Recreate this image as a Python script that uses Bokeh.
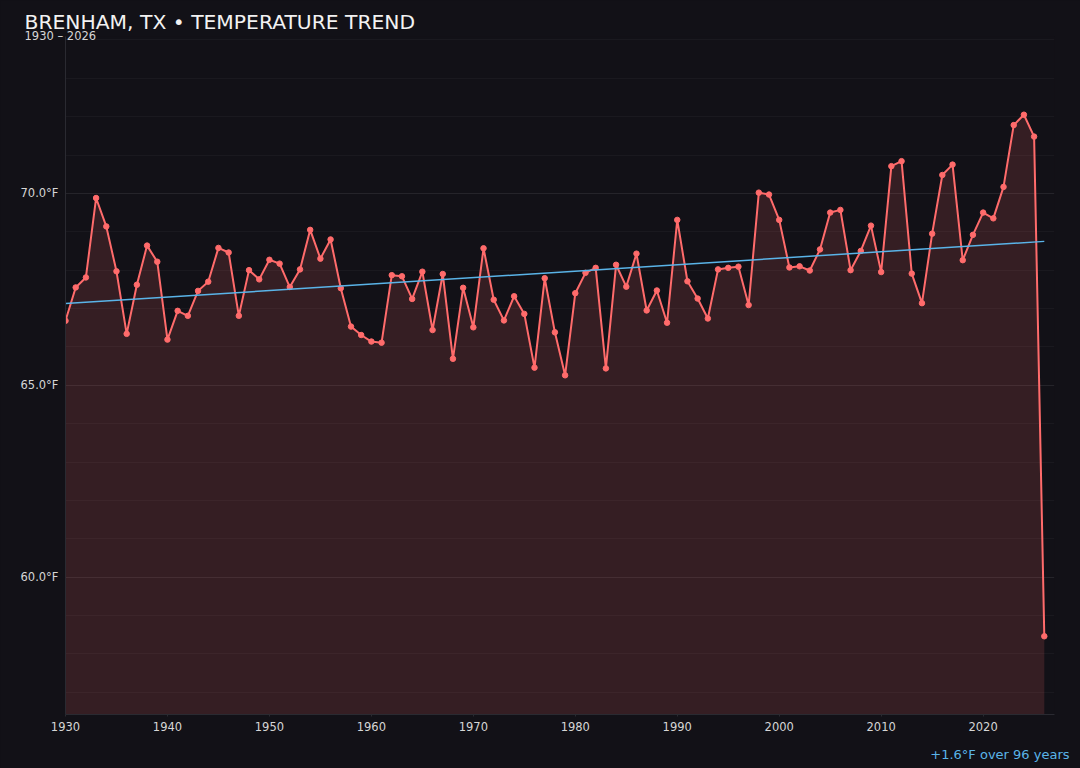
from bokeh.plotting import figure
from bokeh.embed import file_html
from bokeh.resources import INLINE
from bokeh.models import (Range1d, SingleIntervalTicker, PrintfTickFormatter,
                          Title, GlobalInlineStyleSheet)

years = list(range(1930, 2027))
temps = [
    66.68, 67.55, 67.81, 69.88, 69.14, 67.97, 66.34, 67.62, 68.64, 68.22,
    66.19, 66.94, 66.81, 67.46, 67.70, 68.58, 68.46, 66.81, 68.00, 67.76,
    68.27, 68.17, 67.56, 68.02, 69.05, 68.30, 68.80, 67.53, 66.53, 66.31,
    66.14, 66.11, 67.87, 67.84, 67.25, 67.96, 66.44, 67.90, 65.69, 67.54,
    66.51, 68.57, 67.23, 66.69, 67.32, 66.86, 65.46, 67.79, 66.38, 65.26,
    67.40, 67.93, 68.06, 65.44, 68.14, 67.57, 68.43, 66.95, 67.47, 66.63,
    69.31, 67.71, 67.26, 66.74, 68.02, 68.06, 68.09, 67.09, 70.02, 69.97,
    69.31, 68.07, 68.10, 67.99, 68.54, 69.50, 69.57, 68.00, 68.50, 69.16,
    67.95, 70.71, 70.84, 67.91, 67.14, 68.95, 70.48, 70.75, 68.26, 68.92,
    69.50, 69.35, 70.17, 71.78, 72.05, 71.48, 58.46,
]
trend_years = [1930, 2026]
trend_temps = [67.13, 68.75]

title_text = "BRENHAM, TX \u2022 TEMPERATURE TREND"
subtitle_text = "1930 \u2013 2026"
note_text = "+1.6\u00b0F over 96 years"

BG = "#121117"
RED = "#ff6b6b"
BLUE = "#5ab4e8"
W, H = 1080, 768
LEFT, RIGHT, TOP, BOTTOM = 65, 26, 36, 54

span = max(temps) - min(temps)
y_lo = min(temps) - 0.15 * span
y_hi = max(temps) + 0.15 * span

p = figure(width=W, height=H, output_backend="svg", toolbar_location=None, tools="",
           x_range=Range1d(1930, 2027), y_range=Range1d(y_lo, y_hi),
           min_border_left=LEFT, min_border_right=RIGHT,
           min_border_top=TOP, min_border_bottom=BOTTOM)
p.stylesheets = [GlobalInlineStyleSheet(
    css=f"html, body {{ margin: 0; padding: 0; background: {BG}; overflow: hidden; }}")]
p.background_fill_color = BG
p.border_fill_color = BG
p.outline_line_color = None

p.varea(x=years, y1=[y_lo] * len(years), y2=temps, fill_color=RED, fill_alpha=0.15)
p.line(years, temps, line_color=RED, line_width=2)
p.scatter(years, temps, size=5.5, fill_color=RED, line_color=RED)
p.line(trend_years, trend_temps, line_color=BLUE, line_width=1.5)

p.xaxis.ticker = SingleIntervalTicker(interval=10, num_minor_ticks=0)
p.yaxis.ticker = SingleIntervalTicker(interval=5, num_minor_ticks=5)
p.yaxis.formatter = PrintfTickFormatter(format="%.1f\u00b0F")
for ax in (p.xaxis, p.yaxis):
    ax.axis_line_color = "#2a2a31"
    ax.major_tick_line_color = "#2a2a31"
    ax.minor_tick_line_color = None
    ax.major_label_text_color = "#d6d6d6"
    ax.major_label_text_font = "DejaVu Sans"
    ax.major_label_text_font_size = "11.5px"
p.yaxis.major_tick_out = 0
p.yaxis.major_tick_in = 0
p.yaxis.major_label_standoff = 3
p.xaxis.major_tick_out = 2
p.xaxis.major_tick_in = 0
p.xaxis.major_label_standoff = 5

p.xgrid.grid_line_color = None
p.ygrid.grid_line_color = "#ffffff"
p.ygrid.grid_line_alpha = 0.05
p.ygrid.minor_grid_line_color = "#ffffff"
p.ygrid.minor_grid_line_alpha = 0.035

# subtitle first (nearest the frame), then the main title above it
p.add_layout(Title(text=subtitle_text, text_font="DejaVu Sans", text_font_size="11.5px",
                   text_font_style="normal", text_color="#d6d6d6",
                   align="left", offset=-41, standoff=-13), "above")
p.add_layout(Title(text=title_text, text_font="DejaVu Sans", text_font_size="20.3px",
                   text_font_style="normal", text_color="#f2f2f2",
                   align="left", offset=-41, standoff=0), "above")
# leading blank line pushes the note toward the bottom edge
p.add_layout(Title(text="\n" + note_text, text_font="DejaVu Sans", text_font_size="13px",
                   text_font_style="normal", text_color=BLUE,
                   align="right", offset=-15, standoff=-8), "below")

open("out.html", "w").write(file_html(p, INLINE))
